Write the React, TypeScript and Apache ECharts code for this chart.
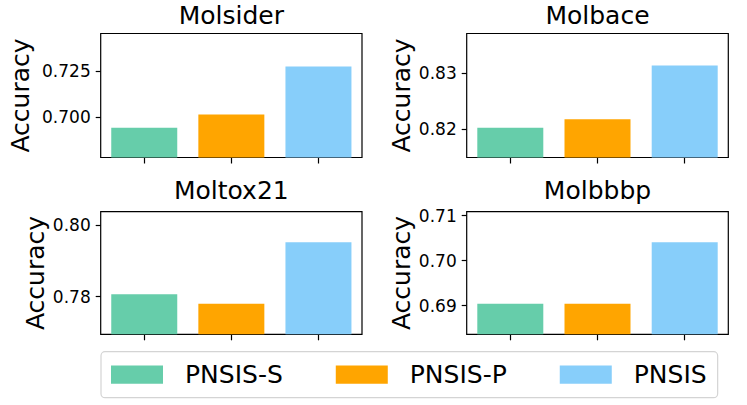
import React, { useEffect, useRef } from "react";
import * as echarts from "echarts";

const methods = ["PNSIS-S", "PNSIS-P", "PNSIS"];
const colors = ["#66cdaa", "#ffa500", "#87cefa"];

const panelTitles = ["Molsider", "Molbace", "Moltox21", "Molbbbp"];
const molsider = [0.694, 0.7013, 0.7276];
const molbace = [0.8202, 0.8217, 0.8313];
const moltox21 = [0.7807, 0.778, 0.7952];
const molbbbp = [0.6904, 0.6904, 0.7041];

const ticksMolsider = [0.7, 0.725];
const ticksMolbace = [0.82, 0.83];
const ticksMoltox21 = [0.78, 0.8];
const ticksMolbbbp = [0.69, 0.7, 0.71];

const rangeMolsider = [0.6778, 0.7456];
const rangeMolbace = [0.8149, 0.837];
const rangeMoltox21 = [0.7695, 0.8037];
const rangeMolbbbp = [0.6836, 0.7109];

const FONT = "DejaVu Sans";

export default function App() {
  const ref = useRef<HTMLDivElement>(null);
  useEffect(() => {
    if (!ref.current) return;
    const chart = echarts.init(ref.current, null, { renderer: "svg" });
    const values = [molsider, molbace, moltox21, molbbbp];
    const ticks = [ticksMolsider, ticksMolbace, ticksMoltox21, ticksMolbbbp];
    const ranges = [rangeMolsider, rangeMolbace, rangeMoltox21, rangeMolbbbp];
    const decimals = [3, 2, 2, 2];
    const nameGaps = [68, 53, 53, 53];
    const grids = [
      { left: 100.7, top: 33.5, width: 261.3, height: 124 },
      { left: 466.7, top: 33.5, width: 261.6, height: 124 },
      { left: 100.7, top: 211.7, width: 261.3, height: 122.6 },
      { left: 466.7, top: 211.7, width: 261.6, height: 122.6 },
    ];
    const option: any = {
      animation: false,
      textStyle: { fontFamily: FONT },
      title: panelTitles.map((t, i) => ({
        text: t,
        left: grids[i].left + grids[i].width / 2,
        top: i < 2 ? 3 : 178,
        textAlign: "center",
        padding: 0,
        textStyle: { fontFamily: FONT, fontSize: 25, fontWeight: "normal", color: "#000" },
      })),
      grid: grids.map((g) => ({
        ...g,
        show: true,
        borderColor: "#000",
        borderWidth: 1.2,
        backgroundColor: "transparent",
      })),
      xAxis: grids.map((_, i) => ({
        type: "category",
        gridIndex: i,
        data: methods,
        axisLine: { show: false },
        axisTick: { show: true, alignWithLabel: true, length: 6, lineStyle: { color: "#000", width: 1.2 } },
        axisLabel: { show: false },
        splitLine: { show: false },
      })),
      yAxis: grids.map((_, i) => ({
        type: "value",
        gridIndex: i,
        min: ranges[i][0],
        max: ranges[i][1],
        name: "Accuracy",
        nameLocation: "middle",
        nameGap: nameGaps[i],
        nameTextStyle: { fontFamily: FONT, fontSize: 25, color: "#000" },
        axisLine: { show: false },
        splitLine: { show: false },
        axisTick: {
          show: true,
          length: 5,
          customValues: ticks[i],
          lineStyle: { color: "#000", width: 1.2 },
        },
        axisLabel: {
          show: true,
          margin: 10,
          customValues: ticks[i],
          fontFamily: FONT,
          fontSize: 17,
          color: "#000",
          formatter: (v: number) => v.toFixed(decimals[i]),
        },
      })),
      legend: {
        left: 101,
        top: 351.7,
        orient: "horizontal",
        data: methods,
        icon: "rect",
        itemWidth: 52,
        itemHeight: 18.3,
        itemGap: 53,
        padding: [9, 11, 9, 10],
        borderColor: "#d4d4d4",
        borderWidth: 1.2,
        borderRadius: 4,
        textStyle: {
          fontFamily: FONT,
          fontSize: 25,
          color: "#000",
          padding: [0, 0, 0, 17],
          lineHeight: 28,
        },
      },
      series: [] as any[],
    };
    values.forEach((vals, i) => {
      methods.forEach((m, j) => {
        option.series.push({
          type: "bar",
          name: m,
          xAxisIndex: i,
          yAxisIndex: i,
          barWidth: 66,
          barGap: "-100%",
          itemStyle: { color: colors[j] },
          data: vals.map((v, k) => (k === j ? v : "-")),
        });
      });
    });
    chart.setOption(option);
    return () => chart.dispose();
  }, []);
  return (
    <div
      ref={ref}
      style={{ position: "fixed", left: 0, top: 0, width: 747, height: 405, background: "#fff" }}
    />
  );
}
